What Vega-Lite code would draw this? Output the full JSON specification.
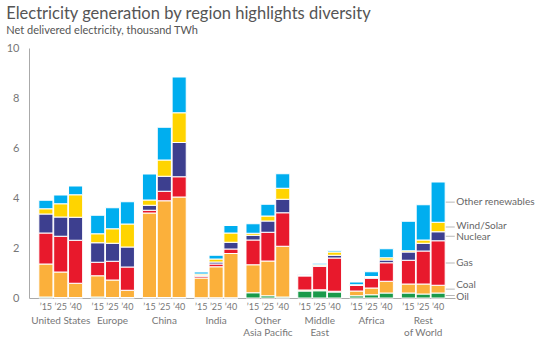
{
  "$schema": "https://vega.github.io/schema/vega-lite/v6.json",
  "width": 426,
  "height": 250,
  "padding": {"left": 6, "top": 5, "right": 2, "bottom": 4},
  "config": {
    "font": "Lato",
    "view": {"stroke": null},
    "axis": {"grid": false, "ticks": false, "tickSize": 0, "domainColor": "#aaaaaa", "labelColor": "#777777", "title": null}
  },
  "title": {
    "text": "Electricity generation by region highlights diversity",
    "subtitle": "Net delivered electricity, thousand TWh",
    "anchor": "start",
    "frame": "bounds",
    "fontSize": 16.5,
    "fontWeight": "normal",
    "color": "#555555",
    "subtitleFontSize": 11,
    "subtitleColor": "#555555",
    "subtitlePadding": 3,
    "offset": 6
  },
  "datasets": {
    "sources": [
      {"source": "Oil", "rank": 1},
      {"source": "Coal", "rank": 2},
      {"source": "Gas", "rank": 3},
      {"source": "Nuclear", "rank": 4},
      {"source": "Wind/Solar", "rank": 5},
      {"source": "Other renewables", "rank": 6}
    ]
  },
  "data": {
    "values": [
      {"region": "United States", "year": "’15", "Oil": 0.04, "Coal": 1.32, "Gas": 1.24, "Nuclear": 0.76, "Wind/Solar": 0.21, "Other renewables": 0.34},
      {"region": "United States", "year": "’25", "Oil": 0.02, "Coal": 1.02, "Gas": 1.43, "Nuclear": 0.77, "Wind/Solar": 0.53, "Other renewables": 0.35},
      {"region": "United States", "year": "’40", "Oil": 0.02, "Coal": 0.57, "Gas": 1.72, "Nuclear": 0.92, "Wind/Solar": 0.90, "Other renewables": 0.35},
      {"region": "Europe", "year": "’15", "Oil": 0.04, "Coal": 0.85, "Gas": 0.54, "Nuclear": 0.78, "Wind/Solar": 0.36, "Other renewables": 0.74},
      {"region": "Europe", "year": "’25", "Oil": 0.02, "Coal": 0.70, "Gas": 0.75, "Nuclear": 0.72, "Wind/Solar": 0.58, "Other renewables": 0.84},
      {"region": "Europe", "year": "’40", "Oil": 0.02, "Coal": 0.29, "Gas": 0.93, "Nuclear": 0.80, "Wind/Solar": 0.92, "Other renewables": 0.89},
      {"region": "China", "year": "’15", "Oil": 0.02, "Coal": 3.38, "Gas": 0.11, "Nuclear": 0.20, "Wind/Solar": 0.21, "Other renewables": 1.04},
      {"region": "China", "year": "’25", "Oil": 0.02, "Coal": 3.87, "Gas": 0.38, "Nuclear": 0.60, "Wind/Solar": 0.65, "Other renewables": 1.31},
      {"region": "China", "year": "’40", "Oil": 0.02, "Coal": 4.02, "Gas": 0.81, "Nuclear": 1.37, "Wind/Solar": 1.19, "Other renewables": 1.43},
      {"region": "India", "year": "’15", "Oil": 0.01, "Coal": 0.79, "Gas": 0.07, "Nuclear": 0.04, "Wind/Solar": 0.05, "Other renewables": 0.08},
      {"region": "India", "year": "’25", "Oil": 0.01, "Coal": 1.24, "Gas": 0.11, "Nuclear": 0.08, "Wind/Solar": 0.12, "Other renewables": 0.15},
      {"region": "India", "year": "’40", "Oil": 0.01, "Coal": 1.77, "Gas": 0.18, "Nuclear": 0.27, "Wind/Solar": 0.37, "Other renewables": 0.30},
      {"region": "Other Asia Pacific", "year": "’15", "Oil": 0.21, "Coal": 1.12, "Gas": 0.99, "Nuclear": 0.19, "Wind/Solar": 0.08, "Other renewables": 0.38},
      {"region": "Other Asia Pacific", "year": "’25", "Oil": 0.09, "Coal": 1.39, "Gas": 1.15, "Nuclear": 0.45, "Wind/Solar": 0.20, "Other renewables": 0.47},
      {"region": "Other Asia Pacific", "year": "’40", "Oil": 0.04, "Coal": 2.03, "Gas": 1.34, "Nuclear": 0.54, "Wind/Solar": 0.44, "Other renewables": 0.58},
      {"region": "Middle East", "year": "’15", "Oil": 0.28, "Coal": 0.04, "Gas": 0.57, "Nuclear": 0.00, "Wind/Solar": 0.01, "Other renewables": 0.03},
      {"region": "Middle East", "year": "’25", "Oil": 0.29, "Coal": 0.04, "Gas": 0.94, "Nuclear": 0.02, "Wind/Solar": 0.04, "Other renewables": 0.06},
      {"region": "Middle East", "year": "’40", "Oil": 0.24, "Coal": 0.03, "Gas": 1.33, "Nuclear": 0.11, "Wind/Solar": 0.13, "Other renewables": 0.05},
      {"region": "Africa", "year": "’15", "Oil": 0.09, "Coal": 0.19, "Gas": 0.23, "Nuclear": 0.01, "Wind/Solar": 0.01, "Other renewables": 0.11},
      {"region": "Africa", "year": "’25", "Oil": 0.13, "Coal": 0.27, "Gas": 0.39, "Nuclear": 0.03, "Wind/Solar": 0.04, "Other renewables": 0.19},
      {"region": "Africa", "year": "’40", "Oil": 0.20, "Coal": 0.47, "Gas": 0.74, "Nuclear": 0.11, "Wind/Solar": 0.09, "Other renewables": 0.36},
      {"region": "Rest of World", "year": "’15", "Oil": 0.20, "Coal": 0.36, "Gas": 0.95, "Nuclear": 0.33, "Wind/Solar": 0.05, "Other renewables": 1.18},
      {"region": "Rest of World", "year": "’25", "Oil": 0.16, "Coal": 0.40, "Gas": 1.32, "Nuclear": 0.31, "Wind/Solar": 0.13, "Other renewables": 1.41},
      {"region": "Rest of World", "year": "’40", "Oil": 0.20, "Coal": 0.31, "Gas": 1.78, "Nuclear": 0.36, "Wind/Solar": 0.38, "Other renewables": 1.61}
    ]
  },
  "encoding": {
    "x": {
      "field": "region",
      "type": "nominal",
      "sort": ["United States", "Europe", "China", "India", "Other Asia Pacific", "Middle East", "Africa", "Rest of World"],
      "scale": {"paddingInner": 0.154, "paddingOuter": 0.19},
      "axis": {
        "labelAngle": 0,
        "labelPadding": 17,
        "labelBaseline": "top",
        "labelFontSize": 10,
        "labelLineHeight": 12,
        "labelExpr": "datum.value == 'Other Asia Pacific' ? ['Other', 'Asia Pacific'] : datum.value == 'Middle East' ? ['Middle', 'East'] : datum.value == 'Rest of World' ? ['Rest', 'of World'] : datum.value"
      }
    }
  },
  "layer": [
    {
      "transform": [
        {"fold": ["Oil", "Coal", "Gas", "Nuclear", "Wind/Solar", "Other renewables"], "as": ["source", "value"]},
        {"lookup": "source", "from": {"data": {"name": "sources"}, "key": "source", "fields": ["rank"]}}
      ],
      "mark": {"type": "bar", "stroke": "white", "strokeWidth": 1},
      "encoding": {
        "xOffset": {"field": "year", "type": "nominal", "sort": ["’15", "’25", "’40"], "scale": {"paddingInner": 0.05}},
        "y": {
          "field": "value",
          "type": "quantitative",
          "stack": "zero",
          "scale": {"domain": [0, 10]},
          "axis": {"values": [0, 2, 4, 6, 8, 10], "labelPadding": 10, "labelFontSize": 11}
        },
        "color": {
          "field": "source",
          "type": "nominal",
          "scale": {
            "domain": ["Oil", "Coal", "Gas", "Nuclear", "Wind/Solar", "Other renewables"],
            "range": ["#1a9a4a", "#fbb03b", "#e8192c", "#3d3f8f", "#ffd400", "#00aeef"]
          },
          "legend": null
        },
        "order": {"field": "rank", "type": "quantitative"}
      }
    },
    {
      "mark": {"type": "text", "baseline": "top", "dy": 5, "fontSize": 9, "color": "#777777"},
      "encoding": {
        "xOffset": {"field": "year", "type": "nominal", "sort": ["’15", "’25", "’40"]},
        "y": {"datum": 0, "type": "quantitative"},
        "text": {"field": "year"}
      }
    },
    {
      "transform": [
        {"filter": "datum.region == 'Rest of World' && datum.year == '’40'"},
        {"fold": ["Oil", "Coal", "Gas", "Nuclear", "Wind/Solar", "Other renewables"], "as": ["source", "value"]},
        {"lookup": "source", "from": {"data": {"name": "sources"}, "key": "source", "fields": ["rank"]}},
        {"stack": "value", "groupby": ["region", "year"], "sort": [{"field": "rank"}], "as": ["v0", "v1"]},
        {"calculate": "(datum.v0 + datum.v1) / 2", "as": "mid"}
      ],
      "layer": [
        {
          "mark": {"type": "tick", "xOffset": 27, "size": 9, "thickness": 1, "color": "#999999"},
          "encoding": {"y": {"field": "mid", "type": "quantitative"}}
        },
        {
          "transform": [{"filter": "datum.source == 'Other renewables' || datum.source == 'Gas'"}],
          "mark": {"type": "text", "align": "left", "baseline": "middle", "dx": 33, "dy": 0, "fontSize": 10, "color": "#666666"},
          "encoding": {"y": {"field": "mid", "type": "quantitative"}, "text": {"field": "source"}}
        },
        {
          "transform": [{"filter": "datum.source == 'Wind/Solar'"}],
          "mark": {"type": "text", "align": "left", "baseline": "middle", "dx": 33, "dy": -1, "fontSize": 10, "color": "#666666"},
          "encoding": {"y": {"field": "mid", "type": "quantitative"}, "text": {"field": "source"}}
        },
        {
          "transform": [{"filter": "datum.source == 'Nuclear'"}],
          "mark": {"type": "text", "align": "left", "baseline": "middle", "dx": 33, "dy": 1, "fontSize": 10, "color": "#666666"},
          "encoding": {"y": {"field": "mid", "type": "quantitative"}, "text": {"field": "source"}}
        },
        {
          "transform": [{"filter": "datum.source == 'Coal'"}],
          "mark": {"type": "text", "align": "left", "baseline": "middle", "dx": 33, "dy": -4, "fontSize": 10, "color": "#666666"},
          "encoding": {"y": {"field": "mid", "type": "quantitative"}, "text": {"field": "source"}}
        },
        {
          "transform": [{"filter": "datum.source == 'Oil'"}],
          "mark": {"type": "text", "align": "left", "baseline": "middle", "dx": 33, "dy": 1.5, "fontSize": 10, "color": "#666666"},
          "encoding": {"y": {"field": "mid", "type": "quantitative"}, "text": {"field": "source"}}
        }
      ]
    }
  ]
}
